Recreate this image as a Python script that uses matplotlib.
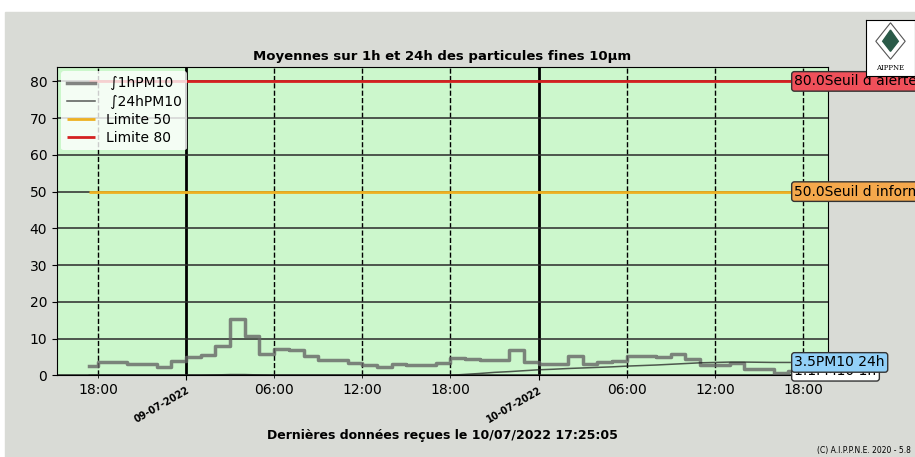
import matplotlib
matplotlib.use("Agg")
import matplotlib.pyplot as plt
import matplotlib.dates as mdates
from matplotlib.patches import Rectangle, Polygon
import pandas as pd

# data : hourly means of PM10 (from 08/07/2022 17:25 to 10/07/2022 17:25)
start = "2022-07-08 17:25"
end = "2022-07-10 17:25"
pm10_1h = [2.4,
           3.6, 3.6, 3.1, 3.1, 2.3, 3.9,
           5.0, 5.4, 8.0, 15.2, 10.8, 5.9, 7.1, 6.8, 5.3, 4.2, 4.2, 3.3,
           2.7, 2.3, 3.0, 2.7, 2.7, 3.3, 4.8, 4.5, 4.3, 4.3, 6.8, 3.5,
           3.0, 3.0, 5.3, 3.0, 3.6, 3.9, 5.3, 5.3, 5.0, 5.7, 4.5, 2.9,
           2.9, 3.3, 1.6, 1.6, 0.5, 1.1,
           1.1]
pm10_24h = [0.0,
            0.0, 0.0, 0.0, 0.0, 0.0, 0.0,
            0.0, 0.0, 0.1, 0.2, 0.2, 0.1, 0.0, 0.0, 0.0, 0.0, 0.0, 0.0,
            0.0, 0.0, 0.0, 0.0, 0.0, 0.0, 0.0, 0.25, 0.5, 0.8, 1.0, 1.25,
            1.5, 1.65, 1.85, 2.0, 2.15, 2.3, 2.5, 2.65, 2.8, 3.0, 3.2, 3.4,
            3.5, 3.6, 3.6, 3.55, 3.5, 3.5,
            3.5]
limits = [50, 80]
limit_colors = ["#eeb020", "#d42020"]
limit_names = ["Seuil d information", "Seuil d alerte"]
limit_box = ["#f5a84c", "#f0505a"]

times = [pd.Timestamp(start)] + list(pd.date_range("2022-07-08 18:00", "2022-07-10 17:00", freq="h")) + [pd.Timestamp(end)]

fig = plt.figure(figsize=(9.15, 4.57), dpi=100)
fig.patches.append(Rectangle((5/915, 0), 1, 1 - 12/457, transform=fig.transFigure,
                             color="#d9dbd6", zorder=-10))

ax = fig.add_axes([57/915, 1 - 375.3/457, 770.5/915, 308.6/457])
ax.set_facecolor("#ccf7cc")

ax.plot(times, pm10_1h, drawstyle="steps-post", color="#666666", alpha=0.8, lw=2.5,
        label=" \u222b1hPM10")
ax.plot(times, pm10_24h, color="#222222", lw=1.1, alpha=0.75, label=" \u222b24hPM10")

xmin = times[0] - pd.Timedelta(hours=2.2)
xmax = times[-1] + pd.Timedelta(hours=2.25)
for v, c in zip(limits, limit_colors):
    ax.hlines(v, times[0], xmax, color=c, lw=2, label="Limite %d" % v)

ax.set_xlim(xmin, xmax)
ax.set_ylim(0, 84)
ax.set_yticks(range(0, 81, 10))

ax.xaxis.set_major_locator(mdates.HourLocator(byhour=[0]))
ax.xaxis.set_major_formatter(mdates.DateFormatter("%d-%m-%Y"))
ax.xaxis.set_minor_locator(mdates.HourLocator(byhour=[6, 12, 18]))
ax.xaxis.set_minor_formatter(mdates.DateFormatter("%H:%M"))
for lab in ax.get_xticklabels():
    lab.set_rotation(30)
    lab.set_ha("right")
    lab.set_rotation_mode("anchor")
    lab.set_fontweight("bold")
    lab.set_fontsize(7)
ax.tick_params(axis="x", which="minor", labelsize=10)
ax.tick_params(axis="y", labelsize=10)

ax.grid(True, axis="x", which="major", color="black", lw=2, ls="-")
ax.grid(True, axis="x", which="minor", color="black", lw=1, ls="--")
ax.grid(True, axis="y", color="#2a2a2a", lw=1.1, ls="-")
ax.set_axisbelow(True)

ax.set_title("Moyennes sur 1h et 24h des particules fines 10µm", fontsize=9.5,
             fontweight="bold", pad=5)
ax.legend(loc="upper left", fontsize=10, framealpha=0.8, edgecolor="none",
          borderaxespad=0.3, labelspacing=0.3)

# labels at the last value
for v, n, c in zip(limits, limit_names, limit_box):
    ax.text(times[-1], v, "%.1f%s" % (v, n), fontsize=10, ha="left", va="center",
            bbox=dict(boxstyle="round,pad=0.2", fc=c, ec="#333333"), clip_on=False, zorder=5)
ax.text(times[-1], pm10_1h[-1], "%.1fPM10 1h" % pm10_1h[-1], fontsize=10, ha="left",
        va="center", bbox=dict(boxstyle="round,pad=0.2", fc="white", ec="#333333"),
        clip_on=False, zorder=5)
ax.text(times[-1], pm10_24h[-1], "%.1fPM10 24h" % pm10_24h[-1], fontsize=10, ha="left",
        va="center", bbox=dict(boxstyle="round,pad=0.2", fc="#92d0f8", ec="#333333"),
        clip_on=False, zorder=6)

fig.text(442/915, 1 - 435/457, "Dernières données reçues le 10/07/2022 17:25:05",
         ha="center", va="center", fontsize=9, fontweight="bold")
fig.text(0.995, 1 - 450/457, "(C) A.I.P.P.N.E. 2020 - 5.8", ha="right", va="center",
         fontsize=5.5)

# logo
lg = fig.add_axes([866/915, 1 - 76/457, 49/915, 56/457], zorder=10)
lg.set_facecolor("white")
lg.set_xlim(0, 1)
lg.set_ylim(0, 1)
lg.set_xticks([])
lg.set_yticks([])
lg.add_patch(Polygon([[0.5, 0.95], [0.8, 0.62], [0.5, 0.3], [0.2, 0.62]], closed=True,
                     fill=False, ec="#555555", lw=0.8))
lg.add_patch(Polygon([[0.5, 0.82], [0.66, 0.62], [0.5, 0.44], [0.34, 0.62]], closed=True,
                     fc="#2a5a48", ec="#2a5a48"))
lg.text(0.5, 0.14, "AIPPNE", ha="center", va="center", fontsize=5, family="serif")

fig.savefig("out.png", dpi=100)
